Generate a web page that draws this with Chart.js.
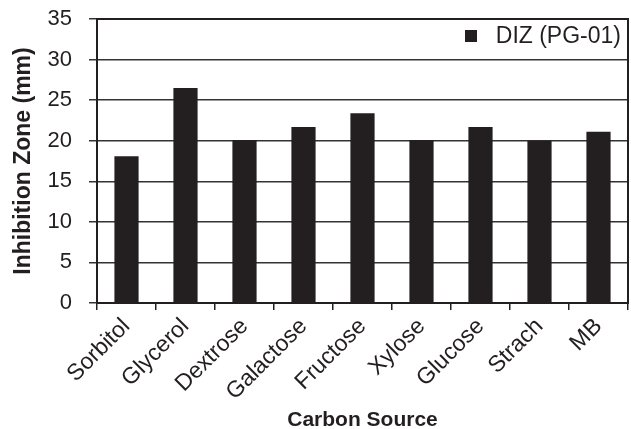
<!DOCTYPE html>
<html>
<head>
<meta charset="utf-8">
<script src="https://cdn.jsdelivr.net/npm/chart.js@4"></script>
<style>
  html, body { margin: 0; padding: 0; background: #fff; }
  #wrap { width: 631px; height: 429px; }
</style>
</head>
<body>
<div id="wrap"><canvas id="chart"></canvas></div>
<script>
var categories = ['Sorbitol', 'Glycerol', 'Dextrose', 'Galactose', 'Fructose', 'Xylose', 'Glucose', 'Strach', 'MB'];
var dizValues = [18.1, 26.5, 20.1, 21.7, 23.4, 20.1, 21.7, 20.0, 21.1];
var yTicks = [0, 5, 10, 15, 20, 25, 30, 35];

var ink = '#231f20';
var fontFamily = '"Liberation Sans", Arial, sans-serif';

// frame round the plot area and the legend in its top right corner
var framePlugin = {
  id: 'frame',
  afterDraw: function(chart) {
    var c = chart.ctx, a = chart.chartArea;
    c.save();
    c.strokeStyle = ink;
    c.lineWidth = 2;
    c.strokeRect(a.left, a.top, a.right - a.left, a.bottom - a.top);
    c.fillStyle = ink;
    c.fillRect(a.right - 163, a.top + 11, 12, 12);
    c.font = '23px ' + fontFamily;
    c.textBaseline = 'middle';
    c.textAlign = 'right';
    c.fillText(chart.data.datasets[0].label, a.right - 7, a.top + 18);
    c.restore();
  }
};

new Chart(document.getElementById('chart').getContext('2d'), {
  type: 'bar',
  data: {
    labels: categories,
    datasets: [{
      label: 'DIZ (PG-01)',
      data: dizValues,
      backgroundColor: ink,
      borderWidth: 0,
      barPercentage: 0.41,
      categoryPercentage: 1
    }]
  },
  options: {
    responsive: true,
    maintainAspectRatio: false,
    animation: false,
    layout: { padding: { left: 0, right: 3, top: 19, bottom: 0 } },
    plugins: {
      legend: { display: false },
      tooltip: { enabled: false }
    },
    scales: {
      x: {
        afterFit: function(axis) { axis.height = 126; },
        grid: { offset: true, drawOnChartArea: false, drawTicks: true, tickLength: 7, color: ink, lineWidth: 1.5 },
        border: { display: true, color: ink, width: 2 },
        ticks: {
          color: ink,
          maxRotation: 45,
          minRotation: 45,
          autoSkip: false,
          padding: 3,
          font: { family: fontFamily, size: 23 }
        },
        title: {
          display: true,
          text: 'Carbon Source',
          color: ink,
          padding: { top: 0, bottom: -2 },
          font: { family: fontFamily, size: 21, weight: 'bold', lineHeight: 1 }
        }
      },
      y: {
        min: 0,
        max: 35,
        afterFit: function(axis) {
          axis.width = 97;
          axis.paddingTop = 0;
          axis.paddingBottom = 0;
        },
        afterBuildTicks: function(axis) {
          axis.ticks = yTicks.map(function(v) { return { value: v }; });
        },
        grid: { color: '#333', lineWidth: 1.5, drawTicks: true, tickLength: 8 },
        border: { display: true, color: ink, width: 2 },
        ticks: {
          color: ink,
          padding: 17,
          font: { family: fontFamily, size: 22 }
        },
        title: {
          display: true,
          text: 'Inhibition Zone (mm)',
          color: ink,
          padding: { top: 10, bottom: 0 },
          font: { family: fontFamily, size: 23, weight: 'bold' }
        }
      }
    }
  },
  plugins: [framePlugin]
});
</script>
</body>
</html>
